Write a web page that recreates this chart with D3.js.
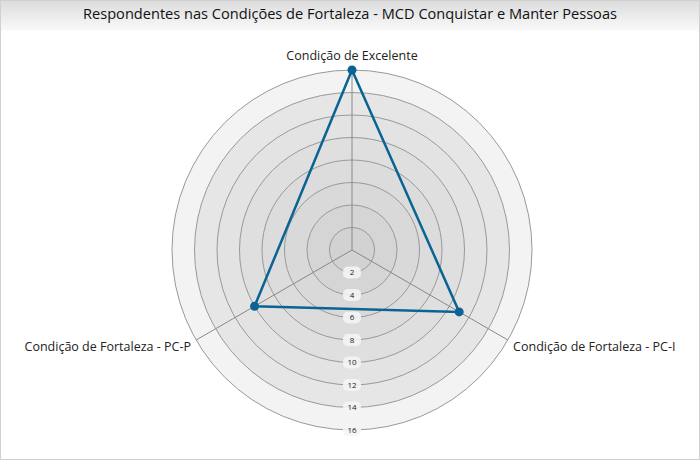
<!DOCTYPE html>
<html>
<head>
<meta charset="utf-8">
<script src="https://cdn.jsdelivr.net/npm/d3@7"></script>
<style>
  body { margin: 0; background: #fff; }
  svg { display: block; font-family: "Open Sans", sans-serif; }
</style>
</head>
<body>
<svg id="chart" width="700" height="460"></svg>
<script>
const axes = ['Condição de Excelente', 'Condição de Fortaleza - PC-I', 'Condição de Fortaleza - PC-P']
const values = [16, 11, 10]
const ticks = [2, 4, 6, 8, 10, 12, 14, 16]
const title = 'Respondentes nas Condições de Fortaleza - MCD Conquistar e Manter Pessoas'

const svg = d3.select('#chart')
const cx = 352, cy = 250

// fundo e titulo
const defs = svg.append('defs')
const grad = defs.append('linearGradient').attr('id', 'tg').attr('x1', 0).attr('y1', 0).attr('x2', 0).attr('y2', 1)
grad.append('stop').attr('offset', '0%').attr('stop-color', '#dcdcdc')
grad.append('stop').attr('offset', '100%').attr('stop-color', '#fafafa')
svg.append('rect').attr('x', 0.5).attr('y', 0.5).attr('width', 699).attr('height', 459)
  .attr('fill', '#fff').attr('stroke', '#d0d0d0')
svg.append('rect').attr('x', 1).attr('y', 1).attr('width', 698).attr('height', 30).attr('fill', 'url(#tg)')
svg.append('text').attr('x', 350).attr('y', 19).attr('text-anchor', 'middle')
  .attr('font-size', 14.6).attr('fill', '#111').text(title)

const r = d3.scaleLinear().domain([0, 16]).range([0, 180])
const shade = d3.scaleLinear().domain([2, 14, 16]).range(['#d2d2d2', '#e6e6e6', '#f3f3f3'])

const g = svg.append('g').attr('transform', `translate(${cx},${cy})`)

// aneis (do maior para o menor)
ticks.slice().reverse().forEach(t => {
  g.append('circle').attr('r', r(t)).attr('fill', shade(t))
    .attr('stroke', '#999').attr('stroke-width', 1)
})

const angle = i => -Math.PI / 2 + i * 2 * Math.PI / axes.length

// eixos
axes.forEach((a, i) => {
  g.append('line').attr('x1', 0).attr('y1', 0)
    .attr('x2', r(16) * Math.cos(angle(i))).attr('y2', r(16) * Math.sin(angle(i)))
    .attr('stroke', '#888').attr('stroke-width', 1)
})

// rotulos dos ticks
ticks.forEach(t => {
  const lg = g.append('g').attr('transform', `translate(0,${r(t)})`)
  lg.append('rect').attr('x', -9).attr('y', -6).attr('width', 18).attr('height', 12).attr('rx', 5)
    .attr('fill', '#f4f4f4').attr('opacity', 0.9)
  lg.append('text').attr('text-anchor', 'middle').attr('dy', '0.35em')
    .attr('font-size', 8).attr('fill', '#222').text(t)
})

// rotulos dos eixos
axes.forEach((a, i) => {
  const ang = angle(i)
  const x = (r(16) + 6) * Math.cos(ang)
  const y = (r(16) + 6) * Math.sin(ang)
  let anchor = 'middle'
  if (Math.cos(ang) > 0.1) anchor = 'start'
  else if (Math.cos(ang) < -0.1) anchor = 'end'
  g.append('text').attr('x', i === 0 ? 0 : x).attr('y', i === 0 ? -r(16) - 10 : y + 8)
    .attr('text-anchor', anchor).attr('font-size', 12.5).attr('fill', '#222').text(a)
})

// serie
const pts = values.map((v, i) => [r(v) * Math.cos(angle(i)), r(v) * Math.sin(angle(i))])
g.append('path').attr('d', d3.line().curve(d3.curveLinearClosed)(pts))
  .attr('fill', 'none').attr('stroke', '#0a6394').attr('stroke-width', 2.5)
g.selectAll('circle.pt').data(pts).enter().append('circle').attr('class', 'pt')
  .attr('cx', d => d[0]).attr('cy', d => d[1]).attr('r', 4.5).attr('fill', '#0a6394')
</script>
</body>
</html>
